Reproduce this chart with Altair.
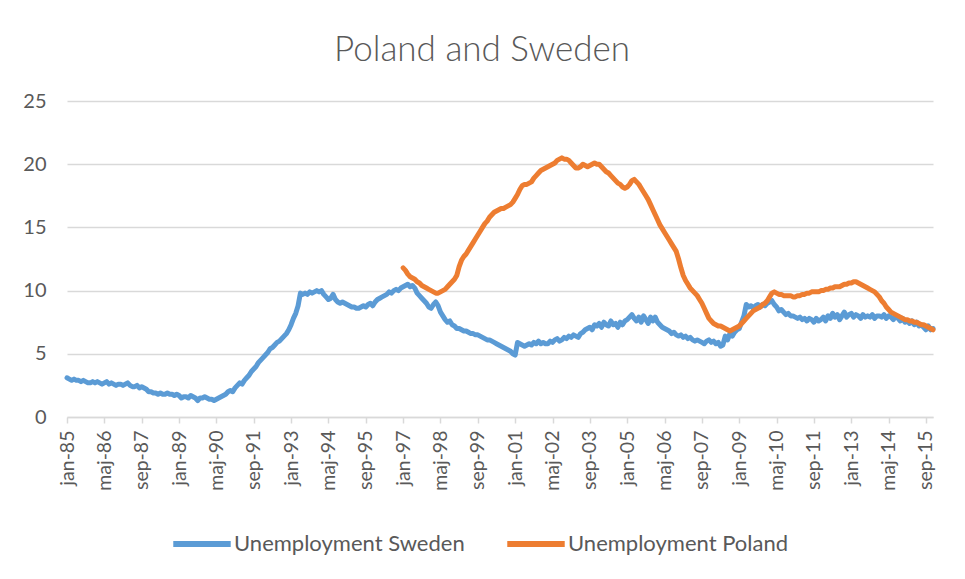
import altair as alt
import pandas as pd

MONTH_NAMES = ["jan", "feb", "mar", "apr", "maj", "jun", "jul", "aug", "sep", "okt", "nov", "dec"]
YEARS = list(range(1985, 2016))
POLAND_START_YEAR = 1997

TICK_LABELS = ["jan-85", "maj-86", "sep-87", "jan-89", "maj-90", "sep-91", "jan-93", "maj-94",
               "sep-95", "jan-97", "maj-98", "sep-99", "jan-01", "maj-02", "sep-03", "jan-05",
               "maj-06", "sep-07", "jan-09", "maj-10", "sep-11", "jan-13", "maj-14", "sep-15"]

Y_TICKS = [0, 5, 10, 15, 20, 25]

SWEDEN = [
    3.1, 3.0, 2.9, 3.0, 2.9, 2.9, 2.8, 2.9, 2.8, 2.7, 2.7, 2.8,   # 1985
    2.7, 2.8, 2.7, 2.6, 2.7, 2.8, 2.6, 2.7, 2.6, 2.5, 2.6, 2.6,   # 1986
    2.5, 2.6, 2.7, 2.5, 2.4, 2.4, 2.5, 2.3, 2.4, 2.3, 2.2, 2.0,   # 1987
    2.0, 1.9, 1.9, 1.8, 1.9, 1.8, 1.8, 1.9, 1.8, 1.8, 1.7, 1.8,   # 1988
    1.7, 1.5, 1.6, 1.6, 1.5, 1.7, 1.6, 1.5, 1.3, 1.5, 1.5, 1.6,   # 1989
    1.5, 1.4, 1.4, 1.3, 1.4, 1.5, 1.6, 1.7, 1.8, 2.0, 2.1, 2.0,   # 1990
    2.3, 2.5, 2.7, 2.6, 2.9, 3.1, 3.3, 3.6, 3.8, 4.0, 4.3, 4.5,   # 1991
    4.7, 4.9, 5.1, 5.4, 5.5, 5.7, 5.9, 6.0, 6.2, 6.4, 6.6, 6.9,   # 1992
    7.3, 7.8, 8.2, 8.8, 9.8, 9.7, 9.8, 9.7, 9.9, 9.8, 9.9, 10.0,  # 1993
    9.9, 10.0, 9.7, 9.5, 9.3, 9.4, 9.7, 9.3, 9.1, 9.0, 9.1, 9.0,  # 1994
    8.9, 8.8, 8.7, 8.7, 8.6, 8.6, 8.7, 8.8, 8.7, 8.9, 9.0, 8.8,   # 1995
    9.1, 9.3, 9.4, 9.5, 9.6, 9.7, 9.9, 9.8, 10.0, 10.1, 10.0, 10.2,  # 1996
    10.3, 10.4, 10.5, 10.3, 10.4, 10.2, 9.8, 9.6, 9.4, 9.2, 9.0, 8.7,  # 1997
    8.6, 8.9, 9.1, 8.8, 8.3, 8.0, 7.7, 7.5, 7.6, 7.3, 7.2, 7.0,   # 1998
    7.0, 6.9, 6.8, 6.8, 6.7, 6.6, 6.6, 6.5, 6.5, 6.4, 6.3, 6.2,   # 1999
    6.1, 6.1, 6.0, 5.9, 5.8, 5.7, 5.6, 5.5, 5.4, 5.3, 5.2, 5.0,   # 2000
    4.9, 5.9, 5.8, 5.7, 5.6, 5.7, 5.8, 5.7, 5.9, 5.8, 6.0, 5.8,   # 2001
    5.9, 5.8, 5.8, 6.0, 5.9, 6.1, 6.2, 6.0, 6.1, 6.3, 6.2, 6.4,   # 2002
    6.3, 6.5, 6.4, 6.3, 6.6, 6.7, 6.9, 7.0, 7.1, 6.9, 7.3, 7.2,   # 2003
    7.4, 7.1, 7.5, 7.3, 7.2, 7.6, 7.3, 7.4, 7.1, 7.5, 7.3, 7.6,   # 2004
    7.7, 7.9, 8.1, 7.8, 7.6, 7.9, 7.5, 8.0, 7.7, 7.4, 7.9, 7.6,   # 2005
    7.9, 7.5, 7.3, 7.1, 7.0, 6.9, 6.8, 6.6, 6.7, 6.5, 6.4, 6.5,   # 2006
    6.3, 6.4, 6.2, 6.3, 6.1, 6.0, 6.1, 6.0, 5.9, 5.8, 6.0, 6.1,   # 2007
    5.9, 6.0, 5.8, 5.9, 5.6, 5.7, 6.4, 6.1, 6.6, 6.4, 6.7, 6.9,   # 2008
    7.0, 7.5, 8.0, 8.9, 8.7, 8.8, 8.6, 8.8, 8.9, 8.7, 8.9, 8.8,   # 2009
    9.0, 9.1, 9.2, 8.9, 8.7, 8.4, 8.5, 8.3, 8.1, 8.2, 8.0, 8.0,   # 2010
    7.9, 7.8, 7.9, 7.7, 7.8, 7.6, 7.8, 7.7, 7.5, 7.8, 7.6, 7.7,   # 2011
    7.9, 7.6, 8.0, 7.8, 8.2, 7.9, 8.1, 7.7, 8.0, 8.3, 7.9, 8.1,   # 2012
    8.2, 7.9, 8.1, 8.0, 7.8, 8.1, 7.9, 8.0, 7.9, 8.1, 7.8, 8.0,   # 2013
    8.0, 7.9, 8.1, 7.8, 8.0, 7.9, 7.7, 8.0, 7.8, 7.6, 7.8, 7.5,   # 2014
    7.6, 7.4, 7.6, 7.3, 7.5, 7.2, 7.3, 7.1, 6.9, 7.2, 6.9, 7.0,   # 2015
]

POLAND = [
    11.8, 11.6, 11.3, 11.1, 11.0, 10.9, 10.7, 10.6, 10.4, 10.3, 10.2, 10.1,  # 1997
    10.0, 9.9, 9.8, 9.8, 9.9, 10.0, 10.1, 10.3, 10.5, 10.7, 10.9, 11.2,      # 1998
    11.9, 12.4, 12.7, 12.9, 13.2, 13.5, 13.8, 14.1, 14.4, 14.7, 15.0, 15.3,  # 1999
    15.5, 15.8, 16.0, 16.2, 16.3, 16.4, 16.5, 16.5, 16.6, 16.7, 16.8, 17.0,  # 2000
    17.3, 17.6, 18.0, 18.3, 18.4, 18.4, 18.5, 18.6, 18.9, 19.1, 19.3, 19.5,  # 2001
    19.6, 19.7, 19.8, 19.9, 20.0, 20.1, 20.3, 20.4, 20.5, 20.4, 20.4, 20.3,  # 2002
    20.1, 19.9, 19.7, 19.7, 19.8, 20.0, 19.9, 19.8, 19.9, 20.0, 20.1, 20.0,  # 2003
    20.0, 19.8, 19.6, 19.4, 19.3, 19.1, 18.9, 18.7, 18.5, 18.4, 18.2, 18.1,  # 2004
    18.2, 18.4, 18.7, 18.8, 18.6, 18.4, 18.1, 17.8, 17.5, 17.2, 16.8, 16.4,  # 2005
    16.0, 15.6, 15.2, 14.9, 14.6, 14.3, 14.0, 13.7, 13.4, 13.1, 12.5, 11.8,  # 2006
    11.2, 10.8, 10.5, 10.2, 10.0, 9.8, 9.6, 9.3, 9.0, 8.6, 8.2, 7.8,         # 2007
    7.6, 7.4, 7.3, 7.2, 7.2, 7.1, 7.0, 6.9, 6.8, 6.9, 7.0, 7.1,              # 2008
    7.2, 7.4, 7.6, 7.8, 8.0, 8.2, 8.4, 8.5, 8.6, 8.7, 8.9, 9.0,              # 2009
    9.2, 9.5, 9.8, 9.9, 9.8, 9.7, 9.7, 9.6, 9.6, 9.6, 9.6, 9.5,              # 2010
    9.5, 9.6, 9.6, 9.7, 9.7, 9.8, 9.8, 9.9, 9.9, 9.9, 9.9, 10.0,             # 2011
    10.0, 10.1, 10.1, 10.2, 10.2, 10.3, 10.3, 10.3, 10.4, 10.5, 10.5, 10.6,  # 2012
    10.6, 10.7, 10.7, 10.6, 10.5, 10.4, 10.3, 10.2, 10.1, 10.0, 9.9, 9.7,    # 2013
    9.5, 9.2, 9.0, 8.7, 8.5, 8.3, 8.2, 8.1, 8.0, 7.9, 7.8, 7.7,              # 2014
    7.7, 7.6, 7.6, 7.5, 7.5, 7.4, 7.3, 7.3, 7.2, 7.1, 7.0, 6.9,              # 2015
]

SERIES = ["Unemployment Sweden", "Unemployment Poland"]
COLORS = ["#5B9BD5", "#ED7D31"]

MONTHS = [f"{m}-{y % 100:02d}" for y in YEARS for m in MONTH_NAMES]
assert len(SWEDEN) == len(MONTHS)
poland_offset = (POLAND_START_YEAR - YEARS[0]) * 12
assert len(POLAND) == len(MONTHS) - poland_offset

rows = []
for i, month in enumerate(MONTHS):
    rows.append({"month": month, "idx": i, "value": SWEDEN[i], "series": SERIES[0]})
for j, v in enumerate(POLAND):
    i = poland_offset + j
    rows.append({"month": MONTHS[i], "idx": i, "value": v, "series": SERIES[1]})
df = pd.DataFrame(rows)

FONT = "Lato"
TEXT_COLOR = "#595959"
GRID_COLOR = "#D9D9D9"

chart = alt.Chart(df).mark_line(
    strokeWidth=5, strokeCap="round", strokeJoin="round"
).encode(
    x=alt.X("month:O", sort=MONTHS,
            scale=alt.Scale(domain=MONTHS, padding=0),
            axis=alt.Axis(values=TICK_LABELS, labelAngle=-90, labelAlign="right",
                          labelBaseline="middle", title=None, grid=False,
                          domainColor=GRID_COLOR, domainWidth=1.5,
                          tickColor=GRID_COLOR, tickWidth=1.5, tickSize=6,
                          labelPadding=7, labelFontSize=19.5, labelColor=TEXT_COLOR,
                          labelFont=FONT)),
    y=alt.Y("value:Q", scale=alt.Scale(domain=[0, 25], nice=False),
            axis=alt.Axis(values=Y_TICKS, title=None, domain=False, ticks=False,
                          gridColor=GRID_COLOR, gridWidth=1.5, labelPadding=21,
                          labelFontSize=20, labelColor=TEXT_COLOR, labelFont=FONT)),
    color=alt.Color("series:N",
                    scale=alt.Scale(domain=SERIES, range=COLORS),
                    legend=alt.Legend(title=None, orient="none", direction="horizontal",
                                      legendX=103, legendY=411,
                                      symbolType="stroke", symbolSize=3300,
                                      symbolStrokeWidth=6, labelFontSize=22,
                                      labelFont=FONT, labelColor=TEXT_COLOR,
                                      labelOffset=0, columnPadding=30,
                                      labelLimit=400)),
    order=alt.Order("idx:Q"),
).properties(
    width=866,
    height=316,
    title=alt.TitleParams("Poland and Sweden", fontSize=35, font=FONT, fontWeight=300,
                          color=TEXT_COLOR, anchor="middle", dx=-18, offset=23),
    padding={"left": 59, "top": 93, "right": 20, "bottom": 150},
    autosize=alt.AutoSizeParams(type="none"),
).configure_view(stroke=None)

chart.save("out.html", embed_options={"renderer": "svg", "actions": False})
